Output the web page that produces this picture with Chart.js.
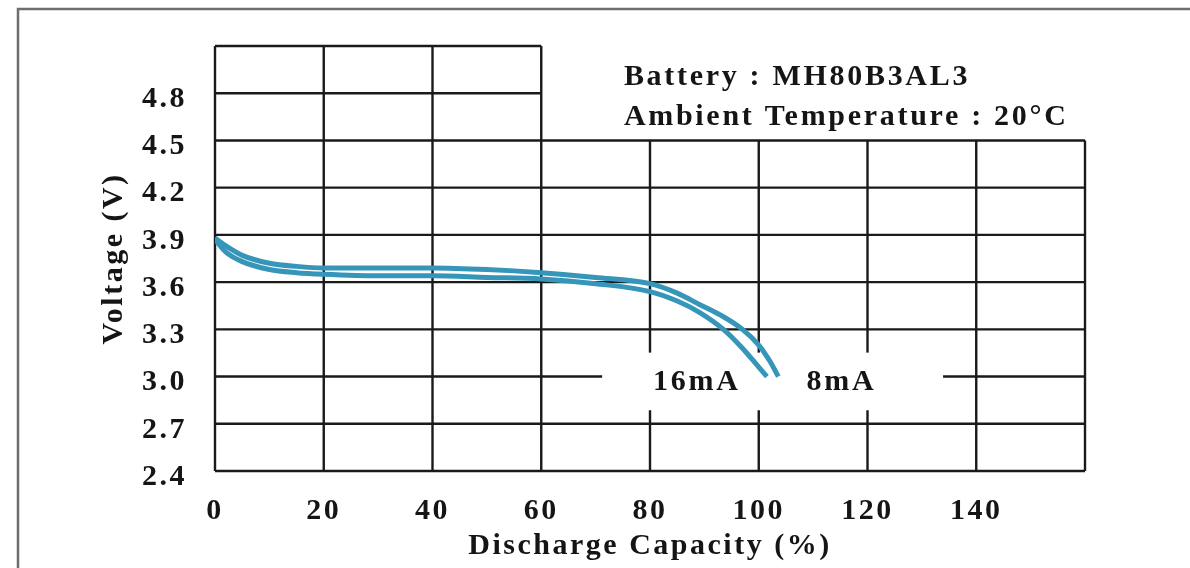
<!DOCTYPE html>
<html>
<head>
<meta charset="utf-8">
<script src="https://cdn.jsdelivr.net/npm/chart.js@4.4.1/dist/chart.umd.min.js"></script>
<style>
  html, body { margin: 0; padding: 0; background: #fff; }
  #wrap { width: 1190px; height: 568px; }
</style>
</head>
<body>
<div id="wrap"><canvas id="dischargeChart"></canvas></div>
<script>
// discharge curves
const cap16 = [0, 2, 5, 10, 15, 20, 30, 40, 50, 60, 70, 80, 85, 89, 93.5, 97, 100, 101.5];
const volt16 = [3.87, 3.79, 3.73, 3.68, 3.66, 3.65, 3.64, 3.64, 3.63, 3.62, 3.59, 3.54, 3.48, 3.41, 3.30, 3.18, 3.06, 3.00];
const cap8 = [0, 2, 5, 10, 15, 20, 30, 40, 50, 60, 70, 80, 85, 89, 93, 97, 100, 102, 103.6];
const volt8 = [3.88, 3.83, 3.77, 3.72, 3.70, 3.69, 3.69, 3.69, 3.68, 3.66, 3.63, 3.59, 3.53, 3.46, 3.39, 3.30, 3.20, 3.10, 3.00];
const xTicks = [0, 20, 40, 60, 80, 100, 120, 140];
const yTicks = [2.4, 2.7, 3.0, 3.3, 3.6, 3.9, 4.2, 4.5, 4.8];
const seriesNames = ['16mA', '8mA'];
const infoLines = ['Battery : MH80B3AL3', 'Ambient Temperature : 20\u00B0C'];

const toPts = (xs, ys) => xs.map((x, i) => ({ x, y: ys[i] }));
const SERIF = '"Liberation Serif", "DejaVu Serif", serif';

// grid with the stepped top and the gap behind the current labels
const gridPlugin = {
  id: 'stepGrid',
  beforeDraw(chart) {
    const c = chart.ctx;
    c.letterSpacing = '2.5px';   // the original lettering is tracked out
    c.save();
    c.strokeStyle = '#6e6e6e';
    c.lineWidth = 2.5;
    c.beginPath();
    c.moveTo(18, chart.height + 2);
    c.lineTo(18, 9);
    c.lineTo(chart.width + 2, 9);
    c.stroke();
    c.restore();
  },
  beforeDatasetsDraw(chart) {
    const { ctx: c, scales: { x, y } } = chart;
    const px = v => x.getPixelForValue(v);
    const py = v => y.getPixelForValue(v);
    c.save();
    c.strokeStyle = '#1a1a1a';
    c.lineWidth = 2.4;
    c.beginPath();
    [2.4, 2.7, 3.0, 3.3, 3.6, 3.9, 4.2, 4.5].forEach(v => {
      c.moveTo(px(0), py(v)); c.lineTo(px(160), py(v));
    });
    [4.8, 5.1].forEach(v => {
      c.moveTo(px(0), py(v)); c.lineTo(px(60), py(v));
    });
    [0, 20, 40, 60].forEach(v => {
      c.moveTo(px(v), py(2.4)); c.lineTo(px(v), py(5.1));
    });
    [80, 100, 120, 140, 160].forEach(v => {
      c.moveTo(px(v), py(2.4)); c.lineTo(px(v), py(4.5));
    });
    c.stroke();
    c.fillStyle = '#fff';
    c.fillRect(px(71.2), py(3.152), px(133.9) - px(71.2), py(2.786) - py(3.152));
    c.restore();
  },
  afterDatasetsDraw(chart) {
    const { ctx: c, scales: { x, y } } = chart;
    c.save();
    c.fillStyle = '#151515';
    c.textBaseline = 'middle';
    c.letterSpacing = '2.7px';
    c.font = 'bold 30px ' + SERIF;
    c.textAlign = 'left';
    c.fillText(infoLines[0], x.getPixelForValue(75.2), y.getPixelForValue(4.90));
    c.fillText(infoLines[1], x.getPixelForValue(75.2), y.getPixelForValue(4.645));
    c.textAlign = 'center';
    c.fillText(seriesNames[0], x.getPixelForValue(88.6), y.getPixelForValue(2.963));
    c.fillText(seriesNames[1], x.getPixelForValue(115.2), y.getPixelForValue(2.963));
    c.restore();
  }
};

const outer = '#3596ba';
const inner = '#b4ebf8';

new Chart(document.getElementById('dischargeChart'), {
  type: 'scatter',
  data: {
    datasets: [
      { label: seriesNames[0], data: toPts(cap16, volt16), borderColor: outer, borderWidth: 5 },
      { label: seriesNames[1], data: toPts(cap8, volt8), borderColor: outer, borderWidth: 5 },
      { label: seriesNames[0] + ' hl', data: toPts(cap16, volt16), borderColor: inner, borderWidth: 1.6 },
      { label: seriesNames[1] + ' hl', data: toPts(cap8, volt8), borderColor: inner, borderWidth: 1.6 }
    ].map(d => Object.assign(d, {
      showLine: true, pointRadius: 0, fill: false,
      cubicInterpolationMode: 'monotone'
    }))
  },
  options: {
    responsive: true,
    maintainAspectRatio: false,
    animation: false,
    layout: { padding: { top: 44, right: 105, left: 90, bottom: 0 } },
    plugins: { legend: { display: false }, tooltip: { enabled: false } },
    scales: {
      x: {
        type: 'linear', min: 0, max: 160,
        afterFit: s => { s.height = 97; },
        afterBuildTicks: s => { s.ticks = xTicks.concat([160]).map(v => ({ value: v })); },
        grid: { display: false, drawTicks: false },
        border: { display: false },
        ticks: {
          padding: 22, color: '#151515',
          font: { family: SERIF, size: 30, weight: 'bold' },
          callback: v => xTicks.includes(v) ? String(v) : ''
        },
        title: {
          display: true, text: 'Discharge Capacity (%)', color: '#151515',
          font: { family: SERIF, size: 30, weight: 'bold' },
          padding: { bottom: 4 }
        }
      },
      y: {
        type: 'linear', min: 2.4, max: 5.1,
        afterFit: s => { s.width = 125; },
        afterBuildTicks: s => { s.ticks = yTicks.map(v => ({ value: v })); },
        grid: { display: false, drawTicks: false },
        border: { display: false },
        ticks: {
          padding: 28, color: '#151515', labelOffset: 6,
          font: { family: SERIF, size: 30, weight: 'bold' },
          callback: v => v.toFixed(1)
        },
        title: {
          display: true, text: 'Voltage (V)', color: '#151515',
          font: { family: SERIF, size: 30, weight: 'bold' },
          padding: { top: 6 }
        }
      }
    }
  },
  plugins: [gridPlugin]
});
</script>
</body>
</html>
